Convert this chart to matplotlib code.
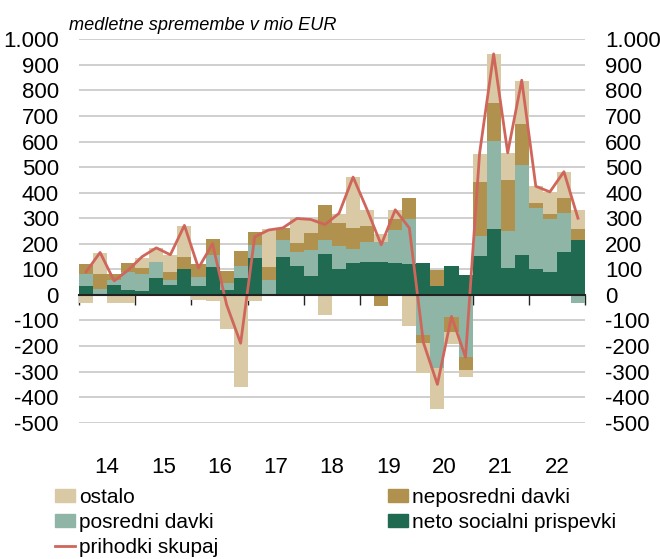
import numpy as np
import matplotlib
matplotlib.use("Agg")
import matplotlib.pyplot as plt
from matplotlib.patches import Patch
from matplotlib.lines import Line2D

plt.rcParams["font.family"] = ["Liberation Sans Narrow", "Liberation Sans", "DejaVu Sans"]
plt.rcParams["axes.unicode_minus"] = False

YEARS = ["14", "15", "16", "17", "18", "19", "20", "21", "22"]

# quarterly values, 2014Q1 .. 2022Q4 (mio EUR, y/y change)
neto_socialni = [34, 3, 38, 20, 17, 68, 37, 102, 34, 110, 20, 66,
                 144, 0, 150, 115, 72, 160, 100, 124, 129, 127, 124, 122,
                 125, 34, 112, 78, 151, 258, 107, 158, 100, 89, 167, 213]
posredni = [48, 19, 21, 68, 65, 60, 22, 0, 35, 46, 28, 46,
            52, 60, 65, 52, 102, 55, 92, 56, 79, 81, 128, 175,
            -155, -286, -86, -244, 81, 346, 142, 351, 240, 206, 153, -31]
neposredni = [38, 60, 21, 37, 25, 0, 29, 46, 53, 62, 46, 58,
              50, 50, 48, 37, 67, 138, 90, 83, 60, -42, 46, 83,
              -35, 65, -60, -48, 209, 145, 200, 161, 21, 22, 59, 43]
ostalo = [-33, 81, -33, -30, 38, 55, 67, 121, -20, -22, -134, -361,
          -25, 146, 0, 95, 55, -80, 35, 198, 65, 29, 35, -120,
          -115, -160, -48, -30, 111, 194, 107, 168, 64, 86, 102, 78]
prihodki_skupaj = [90, 166, 55, 97, 150, 184, 157, 272, 105, 200, -38, -189,
                   227, 254, 262, 299, 295, 275, 319, 461, 333, 196, 333, 262,
                   -186, -350, -84, -244, 554, 943, 556, 840, 425, 403, 482, 300]

SERIES = [
    ("neto socialni prispevki", neto_socialni, "#1F6A50"),
    ("posredni davki", posredni, "#8FB5A7"),
    ("neposredni davki", neposredni, "#B0914D"),
    ("ostalo", ostalo, "#D9C9A5"),
]
LINE_COLOR = "#D0665B"


def main() -> None:
    fig = plt.figure(figsize=(6.6, 5.59), dpi=100)
    ax = fig.add_axes([79 / 660, 1 - 422.7 / 559, 506 / 660, 383.4 / 559])

    x = np.arange(len(prihodki_skupaj))
    pos_base = np.zeros(len(x))
    neg_base = np.zeros(len(x))
    for name, vals, color in SERIES:
        v = np.array(vals, dtype=float)
        bottom = np.where(v >= 0, pos_base, neg_base)
        ax.bar(x, v, width=1.0, bottom=bottom, color=color, linewidth=0, zorder=2)
        pos_base += np.clip(v, 0, None)
        neg_base += np.clip(v, None, 0)

    ax.plot(x, prihodki_skupaj, color=LINE_COLOR, linewidth=2.0, zorder=3)

    ax.set_xlim(-0.5, len(x) - 0.5)
    ax.set_ylim(-500, 1000)

    yt = np.arange(-500, 1001, 100)
    ax.set_yticks(yt)
    ax.set_yticklabels([f"{v:,}".replace(",", ".") for v in yt])
    for v in yt:
        if v != 0:
            ax.axhline(v, color="#CCCCCC", linewidth=1.3, zorder=1)

    for s in ["top", "left", "right"]:
        ax.spines[s].set_visible(False)
    ax.spines["bottom"].set_position(("data", 0))
    ax.spines["bottom"].set_color("#222222")
    ax.spines["bottom"].set_linewidth(1.5)
    ax.spines["bottom"].set_zorder(4)

    ax.set_xticks(np.arange(-0.5, len(x), 4))
    ax.set_xticklabels([])
    ax.tick_params(axis="x", direction="out", length=7, width=1.0, color="#222222")
    ax.tick_params(axis="y", length=0, labelsize=16, labelleft=True, labelright=True, pad=14.5)

    for i, yr in enumerate(YEARS):
        ax.text(4 * i + 1.5, -0.117, yr, transform=ax.get_xaxis_transform(),
                ha="center", va="center", fontsize=16)

    fig.text(69 / 660, 1 - 25 / 559, "medletne spremembe v mio EUR",
             family=["Liberation Sans", "DejaVu Sans"], style="italic",
             fontsize=13.1, va="center", ha="left")

    colors = {name: color for name, _, color in SERIES}
    handles = [
        Patch(color=colors["ostalo"]),
        Patch(color=colors["posredni davki"]),
        Line2D([], [], color=LINE_COLOR, linewidth=2.0),
        Patch(color=colors["neposredni davki"]),
        Patch(color=colors["neto socialni prispevki"]),
    ]
    labels = ["ostalo", "posredni davki", "prihodki skupaj",
              "neposredni davki", "neto socialni prispevki"]
    fig.legend(handles, labels, ncol=2, loc="upper left",
               bbox_to_anchor=(55 / 660, 1 - 488 / 559), frameon=False,
               fontsize=15, handlelength=0.96, handleheight=0.58,
               handletextpad=0.2, labelspacing=0.29, columnspacing=8.15,
               borderpad=0, borderaxespad=0)

    fig.savefig("out.png", dpi=100)


if __name__ == "__main__":
    main()
